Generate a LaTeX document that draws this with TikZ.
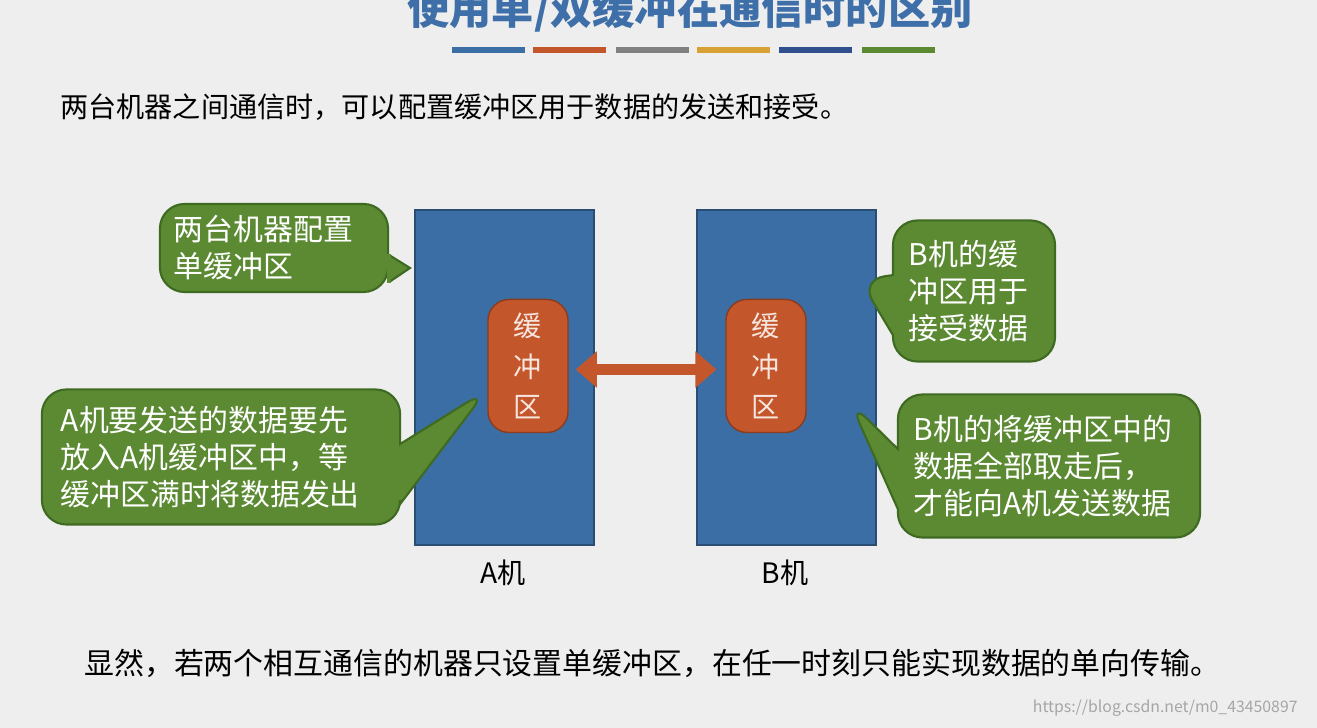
\documentclass[tikz,border=0pt]{standalone}
\usepackage{fontspec}
\setmainfont{Noto Sans CJK SC}
\usetikzlibrary{shapes.callouts,arrows.meta}
\definecolor{bgc}{HTML}{EEEEEE}
\definecolor{mblue}{HTML}{3B6EA4}
\definecolor{bufc}{HTML}{C4562B}
\definecolor{tipg}{HTML}{5B8A33}
\definecolor{tipb}{HTML}{3E6A22}
\definecolor{ttl}{HTML}{3E6FA8}
\tikzset{
  machine/.style={fill=mblue, draw=mblue!70!black, line width=0.4pt},
  buffer/.style={fill=bufc, draw=bufc!70!black, rounded corners=6pt,
    text=white!85!bufc, font=\fontsize{8}{11.5}\selectfont, align=center,
    minimum width=0.8cm, minimum height=1.33cm},
  tipbox/.style={fill=tipg, draw=tipb, line width=0.6pt,
    rounded corners=7pt, text=white, align=left, inner sep=0pt,
    font=\fontsize{8.5}{10.6}\selectfont},
  tip/.style={tipbox, rectangle callout, callout pointer width=0.6cm},
  plain/.style={font=\fontsize{8}{10}\selectfont, anchor=west}
}
\begin{document}
\begin{tikzpicture}[x=0.01cm,y=0.01cm]
\fill[bgc] (0,0) rectangle (1317,728);
\useasboundingbox (0,0) rectangle (1317,728);
% titre
\begin{scope}
\clip (0,0) rectangle (1317,728);
\node[text=ttl, font=\fontsize{12}{14}\selectfont\bfseries] (title) at (690,718) {使用单/双缓冲在通信时的区别};
\end{scope}
\foreach \x/\c in {452/3B6EA4, 533/C4562B, 616/808080, 697/D9A033, 779/2F4F8F, 862/5B8A33}{
  \definecolor{barc}{HTML}{\c}
  \fill[barc] (\x,675) rectangle +(73,6);
}
\node[plain] (intro) at (48,621) {两台机器之间通信时，可以配置缓冲区用于数据的发送和接受。};
% machines
\draw[machine] (415,518) rectangle (594,183);
\draw[machine] (697,518) rectangle (876,183);
\node[buffer] (bufA) at (528,362) {缓\\冲\\区};
\node[buffer] (bufB) at (766,362) {缓\\冲\\区};
\draw[{Triangle[length=6pt,width=10pt]}-{Triangle[length=6pt,width=10pt]}, line width=3pt, bufc]
  ([xshift=2pt,yshift=-1pt]bufA.east) -- ([xshift=-2.5pt,yshift=-1pt]bufB.west);
\node[font=\fontsize{8}{10}\selectfont] (labA) at (503,155) {A机};
\node[font=\fontsize{8}{10}\selectfont] (labB) at (785,155) {B机};
% bulles
\node[tipbox, minimum width=2.28cm, minimum height=0.88cm, text width=2.0cm] (t1) at (274,480) {两台机器配置\\单缓冲区};
\coordinate (p1) at (410,460);
\draw[fill=tipg, draw=tipb, line width=0.6pt] ([yshift=-2pt]t1.east) -- (p1) -- ([yshift=-9.7pt]t1.east);
\fill[tipg] ([xshift=-0.6pt,yshift=-1.8pt]t1.east) rectangle ([xshift=0.4pt,yshift=-9.9pt]t1.east);
\node[tip, minimum width=1.62cm, minimum height=1.41cm, text width=1.3cm,
  callout absolute pointer={(860,448)}] (t2) at (974,437) {B机的缓\\冲区用于\\接受数据};
\node[tip, minimum width=3.58cm, minimum height=1.35cm, text width=3.2cm,
  callout absolute pointer={(487,338)}] (t3) at (221,271) {A机要发送的数据要先\\放入A机缓冲区中，等\\缓冲区满时将数据发出};
\node[tip, minimum width=3.02cm, minimum height=1.43cm, text width=2.7cm,
  callout absolute pointer={(850,326)}] (t4) at (1049,262) {B机的将缓冲区中的\\数据全部取走后，\\才能向A机发送数据};
\node[plain, font=\fontsize{8.5}{10}\selectfont] (concl) at (72,65) {显然，若两个相互通信的机器只设置单缓冲区，在任一时刻只能实现数据的单向传输。};
\node[anchor=east, text=gray!70, font=\fontsize{4.5}{5}\selectfont] (wm) at (1310,20) {https://blog.csdn.net/m0\_43450897};
\end{tikzpicture}
\end{document}
